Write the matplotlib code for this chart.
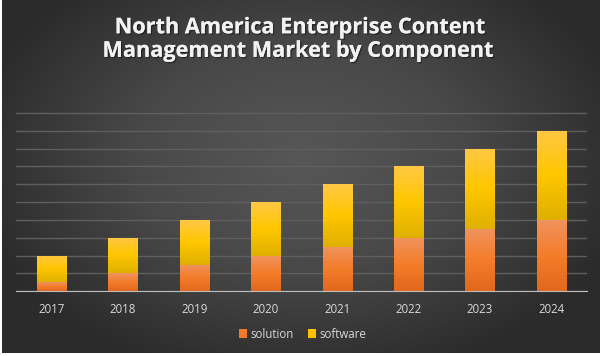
import numpy as np
import matplotlib
matplotlib.use("Agg")
import matplotlib.pyplot as plt
import matplotlib.patheffects as pe
from matplotlib.colors import LinearSegmentedColormap

years = ["2017", "2018", "2019", "2020", "2021", "2022", "2023", "2024"]
solution = [0.5, 1.0, 1.5, 2.0, 2.5, 3.0, 3.5, 4.0]
software = [1.5, 2.0, 2.5, 3.0, 3.5, 4.0, 4.5, 5.0]
series_names = ["solution", "software"]

W, H = 605, 356
fig = plt.figure(figsize=(W / 100, H / 100), dpi=100, facecolor="white")

# dark radial background, white strip round the edge like the screenshot
bg = fig.add_axes([2 / W, 3 / H, 598 / W, 353 / H])
bg.set_axis_off()
yy, xx = np.mgrid[0:1:200j, 0:1:340j]
r = np.sqrt(((xx - 0.5) / 0.75) ** 2 + ((yy - 0.45) / 0.85) ** 2)
r = np.clip(r / 0.75, 0, 1)
bg_cmap = LinearSegmentedColormap.from_list("bg", ["#575757", "#484848", "#2b2b2b"])
bg.imshow(r, cmap=bg_cmap, aspect="auto", extent=[0, 1, 0, 1], vmin=0, vmax=1)
bg.set_xlim(0, 1)
bg.set_ylim(0, 1)

ax = fig.add_axes([16 / W, (H - 291.3) / H, 571 / W, 179 / H])
ax.patch.set_alpha(0)
x = np.arange(len(years))
bw = 0.41

b1 = ax.bar(x, solution, bw, color="#ef7a2a", zorder=3, label=series_names[0])
b2 = ax.bar(x, software, bw, bottom=solution, color="#ffc000", zorder=3, label=series_names[1])

# vertical gradient fills inside each bar
sol_cmap = LinearSegmentedColormap.from_list("sol", ["#e2681c", "#f47d2a", "#f0935e"])
soft_cmap = LinearSegmentedColormap.from_list("soft", ["#dfb000", "#ffc600", "#ffc844"])
grad = np.linspace(0, 1, 100).reshape(-1, 1)
for bars, cm in ((b1, sol_cmap), (b2, soft_cmap)):
    for p in bars:
        x0, y0 = p.get_x(), p.get_y()
        im = ax.imshow(grad, cmap=cm, aspect="auto", origin="lower",
                       extent=[x0, x0 + p.get_width(), y0, y0 + p.get_height()], zorder=4)
        im.set_clip_path(p)

ax.set_xlim(-0.5, len(years) - 0.5)
ax.set_ylim(0, 10.03)
ax.set_yticks(np.arange(0, 11))
ax.yaxis.grid(True, color="#5f5f5f", linewidth=1, zorder=0)
ax.tick_params(axis="y", left=False, labelleft=False)
ax.tick_params(axis="x", bottom=False, colors="#d9d9d9", labelsize=8.3, pad=5)
ax.set_xticks(x)
ax.set_xticklabels(years, fontfamily="Open Sans")
for s in ["top", "right", "left"]:
    ax.spines[s].set_visible(False)
ax.spines["bottom"].set_color("#bdbdbd")
ax.spines["bottom"].set_zorder(5)

leg = fig.legend(handles=[b1, b2], labels=series_names, loc="center",
                 bbox_to_anchor=(0.5, 1 - 334 / H), ncol=2, frameon=False,
                 handlelength=0.7, handleheight=0.7, handletextpad=0.3, columnspacing=1.2,
                 prop={"family": "Open Sans", "size": 8.3})
for t in leg.get_texts():
    t.set_color("#d9d9d9")

shadow = [pe.withSimplePatchShadow(offset=(1, -1), shadow_rgbFace="black", alpha=0.4), pe.Normal()]
fig.text(300 / W, 1 - 33.3 / H, "North America Enterprise Content", ha="center", va="baseline",
         color="#f2f2f2", fontsize=15.6, fontweight="bold", fontfamily="Open Sans", path_effects=shadow)
fig.text(298 / W, 1 - 56.8 / H, "Management Market by Component", ha="center", va="baseline",
         color="#f2f2f2", fontsize=15.6, fontweight="bold", fontfamily="Open Sans", path_effects=shadow)

fig.savefig("out.png", dpi=100, facecolor="white")
